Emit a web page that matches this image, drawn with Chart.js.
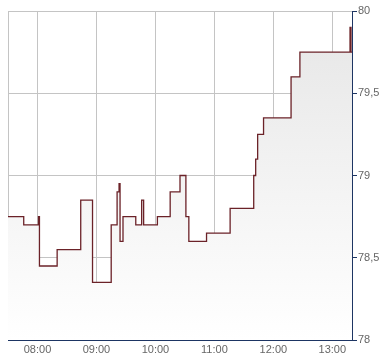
<!DOCTYPE html>
<html>
<head>
<meta charset="utf-8">
<script src="https://cdn.jsdelivr.net/npm/chart.js@4/dist/chart.umd.min.js"></script>
<style>
html,body{margin:0;padding:0;background:#fff;}
#wrap{width:390px;height:364px;}
</style>
</head>
<body>
<div id="wrap"><canvas id="c" width="390" height="364"></canvas></div>
<script>
const times = ["07:30","07:46","08:01","08:02","08:20","08:44","08:56","09:15","09:21","09:23","09:24","09:27","09:40","09:46","09:48","10:02","10:15","10:25","10:31","10:34","10:52","11:16","11:40","11:42","11:44","11:50","12:18","12:27","13:18","13:19","13:20"];
const prices = [78.75,78.70,78.75,78.45,78.55,78.85,78.35,78.70,78.90,78.95,78.60,78.75,78.70,78.85,78.70,78.75,78.90,79.00,78.75,78.60,78.65,78.80,79.00,79.10,79.25,79.35,79.60,79.75,79.90,79.75,79.75];
const xTickLabels = ["08:00","09:00","10:00","11:00","12:00","13:00"];
const yTicks = [78, 78.5, 79, 79.5, 80];
const xStart = "07:30", xEnd = "13:20";

const toMin = s => { const [h,m] = s.split(':').map(Number); return h*60+m; };
const points = times.map((t,i)=>({x: toMin(t), y: prices[i]}));
const tickValues = [toMin(xStart)].concat(xTickLabels.map(toMin));
const labelOf = {};
xTickLabels.forEach(l => labelOf[toMin(l)] = l);

const font = {family: "'Liberation Sans', Arial, sans-serif", size: 11};

new Chart(document.getElementById('c'), {
  type: 'line',
  data: {
    datasets: [{
      data: points,
      stepped: true,
      borderColor: '#6b2228',
      borderWidth: 1.3,
      pointRadius: 0,
      fill: 'origin',
      backgroundColor: (ctx) => {
        const ca = ctx.chart.chartArea;
        if (!ca) return '#eeeeee';
        const g = ctx.chart.ctx.createLinearGradient(0, ca.top, 0, ca.bottom);
        g.addColorStop(0, '#e6e6e6');
        g.addColorStop(1, '#ffffff');
        return g;
      }
    }]
  },
  options: {
    responsive: false,
    animation: false,
    layout: {padding: {left: 8, top: 11, right: 0, bottom: 0}},
    plugins: {legend: {display: false}, tooltip: {enabled: false}},
    scales: {
      x: {
        type: 'linear',
        min: toMin(xStart),
        max: toMin(xEnd),
        afterBuildTicks: (s) => { s.ticks = tickValues.map(v => ({value: v})); },
        afterFit: (s) => { s.height = 24; },
        ticks: {
          callback: (v) => labelOf[v] || '',
          color: '#666666',
          font: font,
          padding: 3,
          maxRotation: 0,
          autoSkip: false
        },
        grid: {color: '#c4c4c4', drawTicks: false, lineWidth: 1},
        border: {color: '#1d3563', width: 1}
      },
      y: {
        position: 'right',
        min: 78,
        max: 80,
        afterBuildTicks: (s) => { s.ticks = yTicks.map(v => ({value: v})); },
        afterFit: (s) => { s.width = 38; },
        ticks: {
          callback: (v) => String(v).replace('.', ','),
          color: '#666666',
          font: font,
          padding: 1
        },
        grid: {color: '#c4c4c4', tickColor: '#1d3563', tickLength: 5, lineWidth: 1},
        border: {color: '#1d3563', width: 1}
      }
    }
  }
});
</script>
</body>
</html>
